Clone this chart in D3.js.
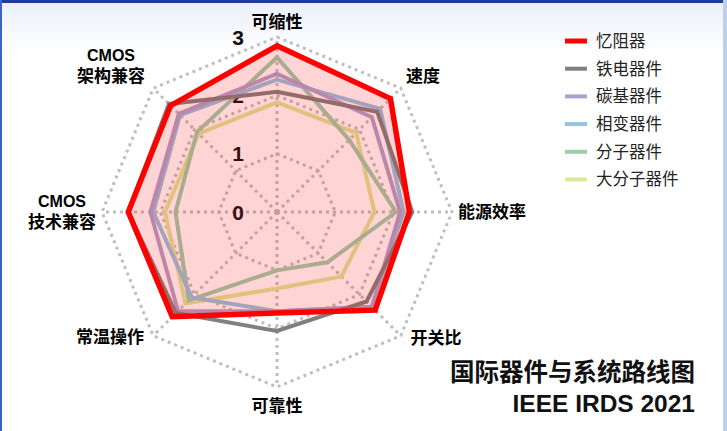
<!DOCTYPE html>
<html><head><meta charset="utf-8">
<script src="https://cdn.jsdelivr.net/npm/d3@7/dist/d3.min.js"></script>
<style>
html,body{margin:0;padding:0;background:#fff;}
svg{display:block;}
</style></head>
<body>
<svg id="c" width="727" height="431"></svg>
<script>
const axes = ["可缩性","速度","能源效率","开关比","可靠性","常温操作","CMOS\n技术兼容","CMOS\n架构兼容"];
const seriesNames = ["忆阻器","铁电器件","碳基器件","相变器件","分子器件","大分子器件"];
const memristor   = [2.85, 2.75, 2.27, 2.38, 1.73, 2.54, 2.55, 2.58];
const ferro       = [2.06, 2.43, 2.32, 2.17, 2.04, 2.45, 2.55, 2.62];
const carbon      = [2.37, 2.30, 2.11, 2.30, 1.70, 2.40, 2.17, 2.38];
const phaseChange = [2.27, 2.50, 2.17, 2.30, 1.70, 2.07, 2.12, 2.35];
const molecular   = [2.65, 1.75, 2.04, 1.22, 1.00, 2.14, 1.74, 1.94];
const macroMol    = [1.88, 1.92, 1.67, 1.56, 1.31, 2.22, 1.92, 1.90];
const tickLabels  = [0, 1, 2, 3];
const colors = ["#ff0000","#808080","#aea2cc","#93c4e2","#98cfab","#dde899"];
const titleCN = "国际器件与系统路线图";
const titleEN = "IEEE IRDS 2021";

const svg = d3.select("#c");
const W = 727, H = 431;
const cx = 277, cy = 212;

// background / frame
const defs = svg.append("defs");
const g1 = defs.append("linearGradient").attr("id","bg").attr("x1",0).attr("y1",0).attr("x2",0).attr("y2",1);
g1.append("stop").attr("offset","0").attr("stop-color","#e9eef8");
g1.append("stop").attr("offset","0.12").attr("stop-color","#ffffff");
g1.append("stop").attr("offset","1").attr("stop-color","#ffffff");
svg.append("rect").attr("width",W).attr("height",H).attr("fill","url(#bg)");
svg.append("rect").attr("x",0).attr("y",0).attr("width",W).attr("height",3).attr("fill","#1f3c98");
svg.append("rect").attr("x",0).attr("y",0).attr("width",2).attr("height",H).attr("fill","#3b63c4");
svg.append("rect").attr("x",W-4).attr("y",0).attr("width",4).attr("height",H).attr("fill","#bcd0ee");

const r = d3.scaleLinear().domain([0,3]).range([0,175]);
const n = axes.length;
const ang = i => i * 2 * Math.PI / n;

const chart = svg.append("g").attr("transform",`translate(${cx},${cy})`);
const radial = d3.lineRadial().angle((d,i)=>ang(i)).radius(d=>r(d)).curve(d3.curveLinearClosed);

// grid
const gridStyle = s => s.attr("fill","none").attr("stroke","#bfbfbf").attr("stroke-width",3).attr("stroke-dasharray","3,4");
tickLabels.filter(t=>t>0).forEach(t=>{
  chart.append("path").attr("d", radial(axes.map(()=>t))).call(gridStyle);
});
axes.forEach((a,i)=>{
  const x = r(3)*Math.sin(ang(i)), y = -r(3)*Math.cos(ang(i));
  chart.append("line").attr("x1",0).attr("y1",0).attr("x2",x).attr("y2",y).call(gridStyle);
});

// tick labels
tickLabels.forEach(t=>{
  chart.append("text").attr("x",-39).attr("y",-r(t)).attr("dy","0.36em")
    .attr("text-anchor","middle").attr("font-family","Liberation Sans, Arial, sans-serif")
    .attr("font-weight","bold").attr("font-size",21).attr("fill","#111").text(t);
});

// series lines (others)
const data = [memristor, ferro, carbon, phaseChange, molecular, macroMol];
const order = [5,4,3,2,1];
order.forEach(k=>{
  chart.append("path").attr("d", radial(data[k])).attr("fill","none")
    .attr("stroke",colors[k]).attr("stroke-width",4).attr("stroke-linejoin","miter");
});
// memristor fill + line
chart.append("path").attr("d", radial(memristor)).attr("fill","#ff0000").attr("fill-opacity",0.17).attr("stroke","none");
chart.append("path").attr("d", radial(memristor)).attr("fill","none")
  .attr("stroke",colors[0]).attr("stroke-width",5.5).attr("stroke-linejoin","miter");

// axis labels (each line its own text element)
const labelPos = [[277,22],[423,76],[492,212],[436,338],[277,406],[110,337],[62,212],[111,66]];
const fontCN = "'Noto Sans CJK SC', 'Noto Sans', sans-serif";
axes.forEach((a,i)=>{
  const lines = a.split("\n");
  const gap = 21;
  lines.forEach((l,j)=>{
    const y = labelPos[i][1] + (j - (lines.length-1)/2) * gap;
    svg.append("text").attr("x",labelPos[i][0]).attr("y",y).attr("dy","0.35em")
      .attr("text-anchor","middle")
      .attr("font-family", l === "CMOS" ? "Liberation Sans, Arial, sans-serif" : fontCN)
      .attr("font-weight","bold")
      .attr("font-size", l === "CMOS" ? 16 : 17).attr("fill","#000").text(l);
  });
});

// legend
const leg = svg.append("g");
seriesNames.forEach((s,i)=>{
  const y = 41 + i*27.7;
  leg.append("line").attr("x1",565).attr("x2",587).attr("y1",y).attr("y2",y)
    .attr("stroke",colors[i]).attr("stroke-width", i===0?5:4);
  leg.append("text").attr("x",596).attr("y",y).attr("dy","0.36em")
    .attr("font-family",fontCN).attr("font-size",16.5).attr("fill","#222").text(s);
});

// title
svg.append("text").attr("x",695).attr("y",372).attr("dy","0.36em").attr("text-anchor","end")
  .attr("font-family",fontCN).attr("font-weight","bold").attr("font-size",24.5).attr("fill","#111").text(titleCN);
svg.append("text").attr("x",695).attr("y",403).attr("dy","0.36em").attr("text-anchor","end")
  .attr("font-family","Liberation Sans, Arial, sans-serif").attr("font-weight","bold").attr("font-size",24.5).attr("fill","#111").text(titleEN);
</script>
</body></html>
